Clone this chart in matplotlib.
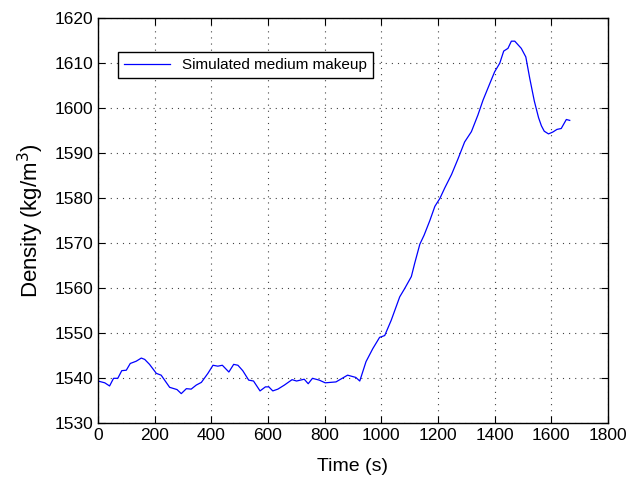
import numpy as np
import matplotlib
matplotlib.use("Agg")
import matplotlib.pyplot as plt

plt.rcParams['font.family'] = ['Liberation Sans', 'DejaVu Sans']

# Simulated medium makeup density
time_s = [0, 24, 41, 55, 70, 84, 100, 114, 135, 153, 165, 182, 206, 223, 253,
          279, 294, 312, 329, 347, 365, 388, 406, 423, 439, 462, 479, 494, 511,
          532, 549, 572, 591, 603, 617, 635, 658, 685, 701, 728, 742, 757, 781,
          802, 840, 881, 910, 924, 946, 970, 994, 1012, 1035, 1065, 1083, 1106,
          1118, 1136, 1151, 1171, 1189, 1207, 1224, 1248, 1271, 1294, 1318, 1341,
          1359, 1383, 1400, 1418, 1432, 1447, 1459, 1471, 1494, 1510, 1524, 1540,
          1555, 1565, 1575, 1590, 1605, 1620, 1635, 1653, 1665]
density = [1539.3, 1538.9, 1538.2, 1539.9, 1539.9, 1541.6, 1541.7, 1543.2, 1543.7,
           1544.4, 1544.1, 1543.0, 1541.0, 1540.6, 1537.9, 1537.4, 1536.5, 1537.6,
           1537.5, 1538.4, 1539.0, 1541.0, 1542.8, 1542.6, 1542.8, 1541.3, 1543.0,
           1542.8, 1541.6, 1539.5, 1539.3, 1537.1, 1538.0, 1538.0, 1537.1, 1537.5,
           1538.4, 1539.6, 1539.3, 1539.7, 1538.7, 1539.9, 1539.5, 1538.9, 1539.1,
           1540.6, 1540.1, 1539.3, 1543.6, 1546.5, 1549.0, 1549.4, 1552.8, 1558.0,
           1559.9, 1562.5, 1565.5, 1569.7, 1571.7, 1574.9, 1578.1, 1579.9, 1582.2,
           1585.2, 1588.7, 1592.4, 1594.7, 1598.4, 1601.7, 1605.4, 1608.0, 1609.9,
           1612.6, 1613.2, 1614.8, 1614.8, 1613.2, 1611.3, 1606.5, 1601.5, 1597.8,
           1596.0, 1594.8, 1594.2, 1594.6, 1595.2, 1595.4, 1597.4, 1597.2]

xticks = np.arange(0, 1801, 200)
yticks = np.arange(1530, 1621, 10)

fig = plt.figure(figsize=(6.32, 4.8), dpi=100)
ax = fig.add_axes([0.155, 0.119, 0.807, 0.844])

ax.plot(time_s, density, color=(0, 0, 1), lw=0.9, label='Simulated medium makeup')

ax.set_xlim(0, 1800)
ax.set_ylim(1530, 1620)
ax.set_xticks(xticks)
ax.set_yticks(yticks)
ax.tick_params(direction='in', top=True, right=True, labelsize=12.5, length=5, width=0.8)
ax.grid(True, linestyle=(0, (1, 4.5)), color='#444444', linewidth=0.8)
for s in ax.spines.values():
    s.set_linewidth(1.0)

ax.set_xlabel('Time (s)', fontsize=14, labelpad=11)
ax.set_ylabel('Density (kg/m$^3$)', fontsize=16, labelpad=6)

leg = ax.legend(loc='upper left', bbox_to_anchor=(0.039, 0.916), borderaxespad=0,
                fontsize=11, fancybox=False, framealpha=1, edgecolor='black',
                handlelength=3)
leg.get_frame().set_linewidth(1.0)

fig.savefig('out.png', dpi=100)
